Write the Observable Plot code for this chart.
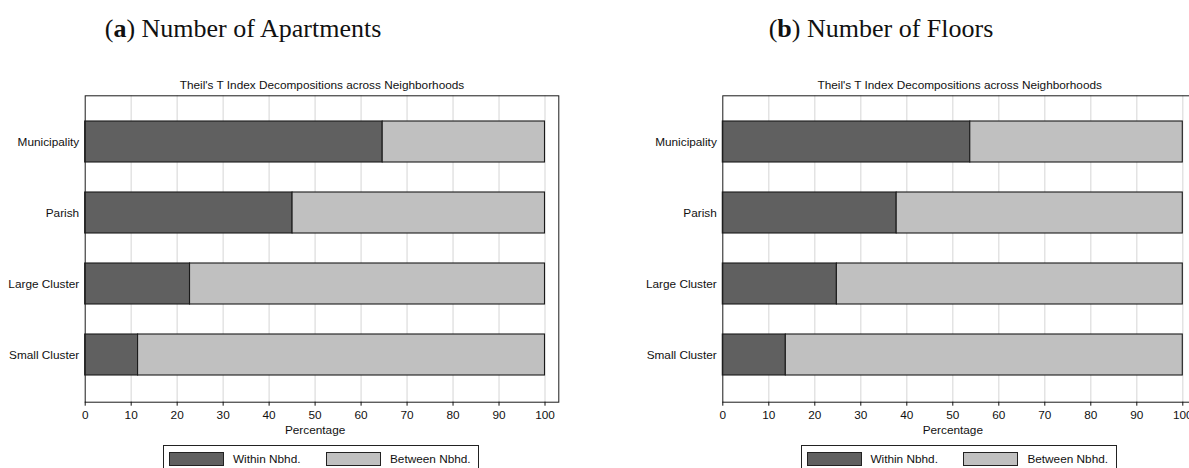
<!DOCTYPE html>
<html>
<head>
<meta charset="utf-8">
<script src="https://cdn.jsdelivr.net/npm/d3@7"></script>
<script src="https://cdn.jsdelivr.net/npm/@observablehq/plot@0.6"></script>
<style>
  html, body { margin: 0; padding: 0; background: #fff; overflow: hidden; }
  #page { position: relative; width: 1189px; height: 468px; overflow: hidden; background: #fff; }
  .panel { position: absolute; top: 0; height: 468px; }
  .ptitle { position: absolute; top: 13px; transform: translateX(-50%); white-space: nowrap;
            font-family: "Liberation Serif", "DejaVu Serif", serif; font-size: 26px; color: #111; line-height: 32px; }
  .legend { position: absolute; top: 444.5px; width: 316px; height: 40px; border: 1px solid #222; box-sizing: border-box; background: #fff;
            font-family: "Liberation Sans", Arial, sans-serif; font-size: 11.8px; color: #111; }
  .sw { position: absolute; top: 6px; width: 55px; height: 14px; border: 1px solid #222; box-sizing: border-box; }
  .lt { position: absolute; top: 5px; line-height: 16px; white-space: nowrap; }
  .chart { position: absolute; left: 0; top: 0; }
</style>
</head>
<body>
<div id="page">
  <div class="panel" id="panelA" style="left:0px; width:600px;"></div>
  <div class="panel" id="panelB" style="left:600px; width:620px;"></div>
</div>
<script>
// ---- data ----
const categories = ["Municipality", "Parish", "Large Cluster", "Small Cluster"];
const parts = ["Within Nbhd.", "Between Nbhd."];
const partColors = ["#606060", "#c0c0c0"];
const withinApartments = [64.7, 45.1, 22.8, 11.5];
const betweenApartments = [35.3, 54.9, 77.2, 88.5];
const withinFloors = [53.8, 37.8, 24.8, 13.7];
const betweenFloors = [46.2, 62.2, 75.2, 86.3];
const xTicks = [0, 10, 20, 30, 40, 50, 60, 70, 80, 90, 100];
const innerTitle = "Theil's T Index Decompositions across Neighborhoods";
const xLabel = "Percentage";
const panelTitles = [["a", " Number of Apartments"], ["b", " Number of Floors"]];

function buildRows(within, between) {
  const rows = [];
  categories.forEach((c, i) => rows.push({cat: c, part: parts[0], value: within[i]}));
  categories.forEach((c, i) => rows.push({cat: c, part: parts[1], value: between[i]}));
  return rows;
}

function makeChart(within, between, width, marginLeft, marginRight) {
  const rows = buildRows(within, between);
  return Plot.plot({
    width: width,
    height: 440,
    marginLeft: marginLeft,
    marginRight: marginRight,
    marginTop: 95.3,
    marginBottom: 38.3,
    style: {fontFamily: "'Liberation Sans', Arial, sans-serif", fontSize: "11.8px", background: "transparent", overflow: "visible", color: "#111"},
    x: {domain: [0, 103]},
    y: {domain: categories, paddingInner: 0.417, paddingOuter: 0.34},
    color: {domain: parts, range: partColors},
    marks: [
      Plot.gridX(xTicks.slice(1), {stroke: "#dcdcdc", strokeOpacity: 1, strokeWidth: 1.2}),
      Plot.barX(rows, {x: "value", y: "cat", fill: "part", stroke: "#1a1a1a", strokeWidth: 1.1}),
      Plot.frame({stroke: "#1a1a1a", strokeWidth: 1}),
      Plot.axisX(xTicks, {anchor: "bottom", tickSize: 4, tickPadding: 4, label: null, stroke: "#111"}),
      Plot.axisY({anchor: "left", tickSize: 0, tickPadding: 6, label: null}),
      Plot.text([xLabel], {x: () => 50, frameAnchor: "bottom", lineAnchor: "top", dy: 23, text: d => d, fill: "#111"}),
      Plot.text([innerTitle], {frameAnchor: "top", lineAnchor: "bottom", dy: -7, text: d => d, fill: "#111"})
    ]
  });
}

function addPanel(el, within, between, width, ml, mr, titleIdx, titleCenter, legendLeft) {
  const chart = makeChart(within, between, width, ml, mr);
  chart.classList.add("chart");
  el.appendChild(chart);
  const t = document.createElement("div");
  t.className = "ptitle";
  t.style.left = titleCenter + "px";
  t.innerHTML = "(<b>" + panelTitles[titleIdx][0] + "</b>)" + panelTitles[titleIdx][1];
  el.appendChild(t);
  const lg = document.createElement("div");
  lg.className = "legend";
  lg.style.left = legendLeft + "px";
  const items = [[6, 69.7], [162.4, 226.7]];
  parts.forEach((p, i) => {
    const sw = document.createElement("div");
    sw.className = "sw";
    sw.style.left = (items[i][0] - 1) + "px";
    sw.style.background = partColors[i];
    lg.appendChild(sw);
    const tx = document.createElement("div");
    tx.className = "lt";
    tx.style.left = (items[i][1] - 1) + "px";
    tx.textContent = p;
    lg.appendChild(tx);
  });
  el.appendChild(lg);
}

addPanel(document.getElementById("panelA"), withinApartments, betweenApartments, 600, 84.7, 600 - 558.3, 0, 243, 163.3);
addPanel(document.getElementById("panelB"), withinFloors, betweenFloors, 620, 122.3, 620 - 596.1, 1, 281, 200.7);
</script>
</body>
</html>
